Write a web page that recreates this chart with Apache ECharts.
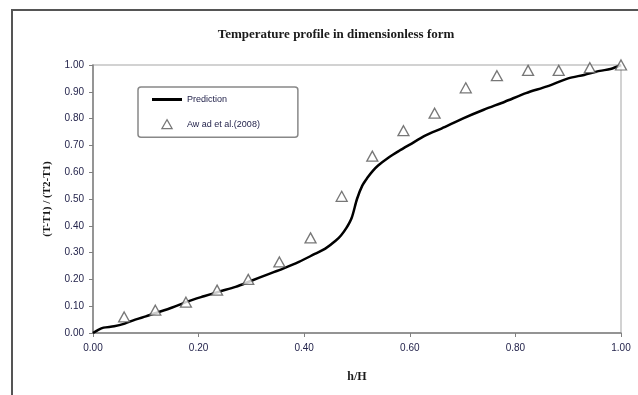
<!DOCTYPE html>
<html>
<head>
<meta charset="utf-8">
<script src="https://cdn.jsdelivr.net/npm/echarts@6/dist/echarts.min.js"></script>
<style>
  html, body { margin: 0; padding: 0; background: #fff; }
  #chart { width: 638px; height: 395px; }
</style>
</head>
<body>
<div id="chart"></div>
<script>
  // prediction curve
  var predX = [0, 0.01, 0.02, 0.04, 0.06, 0.08, 0.10, 0.12, 0.15, 0.18, 0.21, 0.24, 0.27, 0.30, 0.33, 0.36, 0.39, 0.42, 0.44, 0.46, 0.47, 0.48, 0.49, 0.50, 0.51, 0.52, 0.53, 0.54, 0.56, 0.58, 0.60, 0.63, 0.66, 0.70, 0.74, 0.78, 0.82, 0.86, 0.90, 0.93, 0.96, 0.98, 1.00];
  var predY = [0.000, 0.012, 0.020, 0.025, 0.035, 0.050, 0.062, 0.075, 0.095, 0.118, 0.137, 0.155, 0.172, 0.195, 0.218, 0.240, 0.265, 0.295, 0.315, 0.345, 0.365, 0.392, 0.430, 0.500, 0.550, 0.580, 0.605, 0.625, 0.655, 0.680, 0.703, 0.737, 0.763, 0.800, 0.833, 0.863, 0.895, 0.920, 0.950, 0.963, 0.978, 0.985, 1.000];

  // Awad et al. (2008) measurements
  var awadX = [0.059, 0.118, 0.176, 0.235, 0.294, 0.353, 0.412, 0.471, 0.529, 0.588, 0.647, 0.706, 0.765, 0.824, 0.882, 0.941, 1.000];
  var awadY = [0.06, 0.085, 0.115, 0.16, 0.20, 0.265, 0.355, 0.51, 0.66, 0.755, 0.82, 0.915, 0.96, 0.98, 0.98, 0.99, 1.00];

  var xTicks = [0, 0.2, 0.4, 0.6, 0.8, 1.0];
  var yTicks = [0, 0.1, 0.2, 0.3, 0.4, 0.5, 0.6, 0.7, 0.8, 0.9, 1.0];

  var predData = [];
  for (var i = 0; i < predX.length; i++) {
    predData.push([predX[i], predY[i]]);
  }
  var awadData = [];
  for (var j = 0; j < awadX.length; j++) {
    awadData.push([awadX[j], awadY[j]]);
  }

  var labelColor = '#24244c';
  var chart = echarts.init(document.getElementById('chart'));
  var option = {
    animation: false,
    backgroundColor: '#fff',
    graphic: [{
      type: 'rect',
      shape: { x: 12, y: 10, width: 700, height: 500 },
      style: { fill: 'none', stroke: '#555', lineWidth: 2 },
      silent: true
    }],
    title: {
      text: 'Temperature profile in dimensionless form',
      left: 331,
      textAlign: 'center',
      top: 23,
      textStyle: {
        fontFamily: 'Liberation Serif',
        fontSize: 13,
        fontWeight: 'bold',
        color: '#1a1a1a'
      }
    },
    legend: {
      orient: 'vertical',
      left: 138,
      top: 87,
      padding: [8, 38, 8, 14],
      itemGap: 15,
      itemWidth: 30,
      itemHeight: 9,
      borderColor: '#888',
      borderWidth: 1.5,
      borderRadius: 3,
      textStyle: { fontFamily: 'Liberation Sans', fontSize: 9, color: labelColor },
      data: [
        {
          name: 'Prediction',
          icon: 'path://M0,0 L30,0 L30,3 L0,3 Z',
          itemStyle: { color: '#000', borderWidth: 0 }
        },
        {
          name: 'Aw ad et al.(2008)',
          icon: 'path://M4,0 L8,7 L0,7 Z',
          itemStyle: { color: '#fff', borderColor: '#555', borderWidth: 1.2 }
        }
      ]
    },
    grid: {
      left: 93,
      right: 17,
      top: 65,
      bottom: 62,
      show: true,
      borderColor: '#c4c4c4',
      borderWidth: 1.5
    },
    xAxis: {
      type: 'value',
      min: 0,
      max: 1,
      interval: 0.2,
      name: 'h/H',
      nameLocation: 'middle',
      nameGap: 38,
      nameTextStyle: { fontFamily: 'Liberation Serif', fontSize: 12, fontWeight: 'bold', color: '#1a1a1a' },
      axisLine: { lineStyle: { color: '#808080', width: 1.5 } },
      axisTick: { show: true, length: 4, lineStyle: { color: '#808080' } },
      axisLabel: {
        margin: 10,
        fontFamily: 'Liberation Sans',
        fontSize: 10,
        color: labelColor,
        formatter: function (v) { return v.toFixed(2); }
      },
      splitLine: { show: false }
    },
    yAxis: {
      type: 'value',
      min: 0,
      max: 1,
      interval: 0.1,
      name: '(T-T1) / (T2-T1)',
      nameLocation: 'middle',
      nameGap: 40,
      nameTextStyle: { fontFamily: 'Liberation Serif', fontSize: 11, fontWeight: 'bold', color: '#1a1a1a' },
      axisLine: { lineStyle: { color: '#808080', width: 1.5 } },
      axisTick: { show: true, length: 4, lineStyle: { color: '#808080' } },
      axisLabel: {
        margin: 9,
        fontFamily: 'Liberation Sans',
        fontSize: 10,
        color: labelColor,
        formatter: function (v) { return v.toFixed(2); }
      },
      splitLine: { show: false }
    },
    series: [
      {
        name: 'Prediction',
        type: 'line',
        data: predData,
        showSymbol: false,
        smooth: 0.3,
        lineStyle: { color: '#000', width: 2.5 },
        itemStyle: { color: '#000' },
        z: 3
      },
      {
        name: 'Aw ad et al.(2008)',
        type: 'scatter',
        data: awadData,
        symbol: 'triangle',
        symbolSize: [11, 10],
        itemStyle: { color: '#fff', borderColor: '#555', borderWidth: 1.3 },
        z: 4
      }
    ]
  };
  chart.setOption(option);
</script>
</body>
</html>
